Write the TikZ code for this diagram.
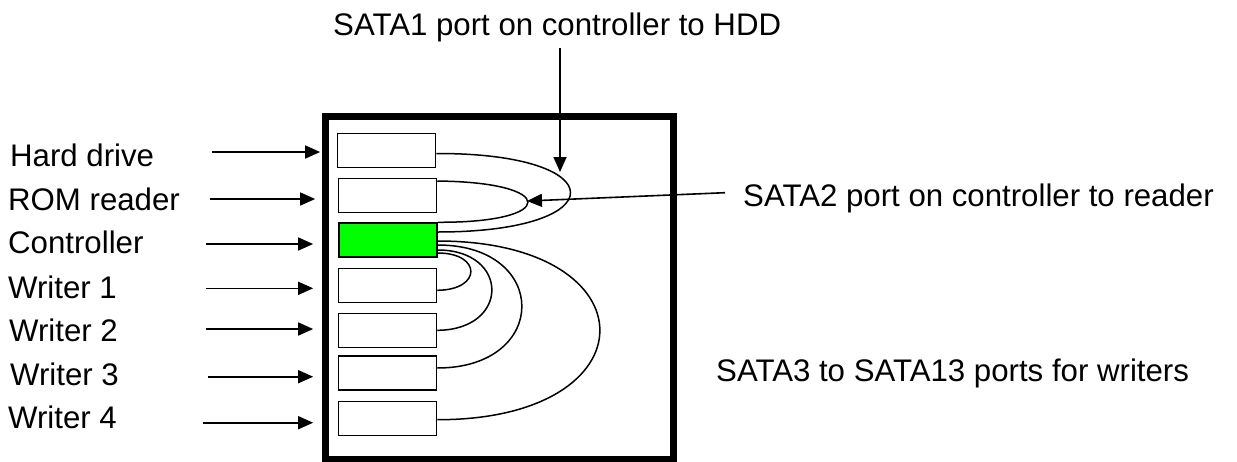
\documentclass[tikz,border=0pt]{standalone}
\usepackage{fontspec}
\setmainfont{Liberation Sans}
\usetikzlibrary{arrows.meta,calc}
\begin{document}
\begin{tikzpicture}[x=1pt,y=-1pt,
  lbl/.style={anchor=base west,inner sep=0pt,font=\fontsize{31.2}{37}\selectfont},
  drive/.style={draw,line width=1.5pt,minimum width=98pt,minimum height=34pt,inner sep=0pt},
  feed/.style={line width=1.6pt,-{Triangle[length=15pt,width=13pt]}},
  cable/.style={line width=1.5pt},
]
\useasboundingbox (0,0) rectangle (1237,461);

% enclosure
\node[draw,line width=7pt,minimum width=348pt,minimum height=343.5pt,inner sep=0pt] (case) at (499.65,287.75) {};

% drive bays
\node[drive] (hdd) at (386.5,150.5) {};
\node[drive] (rom) at (387.5,195.3) {};
\node[drive,fill=green] (ctl) at (388,240) {};
\node[drive] (w1) at (387.5,285.3) {};
\node[drive] (w2) at (387.5,330.3) {};
\node[drive] (w3) at (387.5,373) {};
\node[drive] (w4) at (387.5,418.7) {};

% left labels
\node[lbl] (lhdd) at (10,166) {Hard drive};
\node[lbl] (lrom) at (8,210.7) {ROM reader};
\node[lbl] (lctl) at (8,253.3) {Controller};
\node[lbl] (lw1) at (8,298) {Writer 1};
\node[lbl] (lw2) at (9,341.7) {Writer 2};
\node[lbl] (lw3) at (10,385) {Writer 3};
\node[lbl] (lw4) at (8,428.3) {Writer 4};

% port labels
\node[lbl] (sata1) at (333,35) {SATA1 port on controller to HDD};
\node[lbl] (sata2) at (743,206.7) {SATA2 port on controller to reader};
\node[lbl] (sata3) at (716,381.7) {SATA3 to SATA13 ports for writers};

% arrows into the enclosure
\coordinate (a1) at (212,152);
\coordinate (a2) at (210,199);
\coordinate (a3) at (206,244);
\coordinate (a4) at (206,288.3);
\coordinate (a5) at (206,329);
\coordinate (a6) at (208,376.7);
\coordinate (a7) at (203,422.7);
\draw[feed] (a1) -- ($(case.west |- a1)+(-2,0)$);
\draw[feed] (a2) -- ($(case.west |- a2)+(-7,0)$);
\draw[feed] (a3) -- ($(case.west |- a3)+(-9,0)$);
\draw[feed] (a4) -- ($(case.west |- a4)+(-9,0)$);
\draw[feed] (a5) -- ($(case.west |- a5)+(-9,0)$);
\draw[feed] (a6) -- ($(case.west |- a6)+(-9,0)$);
\draw[feed] (a7) -- ($(case.west |- a7)+(-9,0)$);

% SATA cables from the controller
\draw[cable] ($(hdd.east)+(0,3)$) .. controls (615,153) and (615,232) .. ($(ctl.east)+(0,-8)$);
\draw[cable] ($(rom.north east)+(0,3.5)$) .. controls (558,182) and (558,223) .. (ctl.north east);
\draw[cable] ($(ctl.east)+(0,13)$) .. controls (482,253) and (482,290) .. ($(w1.east)+(0,5)$);
\draw[cable] ($(ctl.east)+(0,10)$) .. controls (510,250) and (510,330) .. (w2.east);
\draw[cable] ($(ctl.east)+(0,5)$) .. controls (550,245) and (550,368) .. ($(w3.east)+(0,-5)$);
\draw[cable] ($(ctl.east)+(0,1)$) .. controls (654,241) and (654,420) .. ($(w4.east)+(0,1)$);

% pointers from the port labels
\coordinate (t1) at (560,172);
\coordinate (t2) at (527,201);
\draw[feed] ($(sata1.base -| t1)+(0,13)$) -- (t1);
\draw[feed] ($(sata2.base west)+(-18,-14)$) -- (t2);
\end{tikzpicture}
\end{document}
